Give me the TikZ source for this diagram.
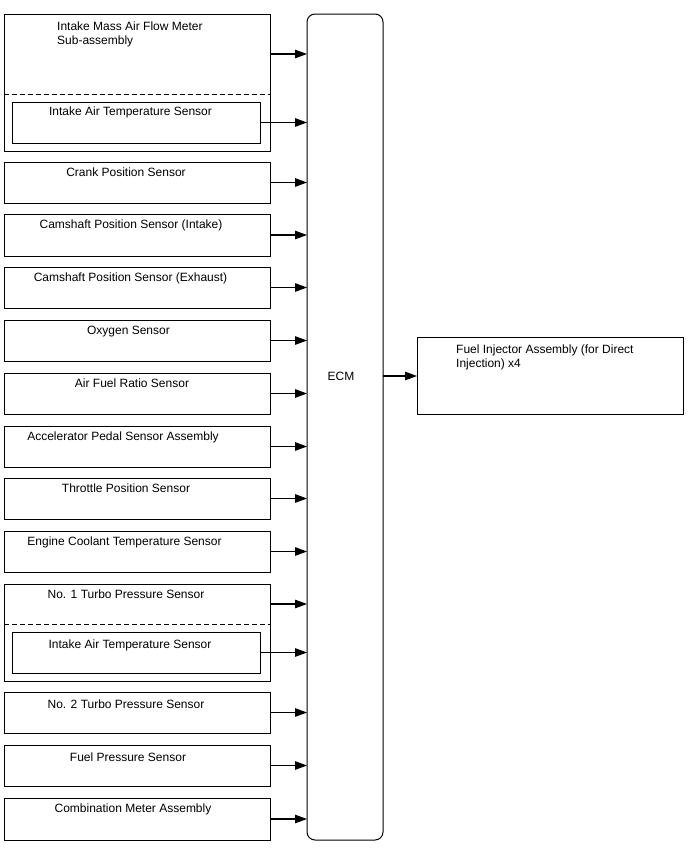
\documentclass[tikz,border=0pt]{standalone}
\usepackage{fontspec}
\setmainfont{Liberation Sans}
\usetikzlibrary{arrows.meta}
\begin{document}
\begin{tikzpicture}[x=1pt,y=-1pt,
  box/.style={draw,line width=1pt,minimum width=266pt,inner sep=0pt,outer sep=0pt,anchor=north west},
  inbox/.style={draw,line width=1pt,minimum width=248pt,minimum height=41pt,inner sep=0pt,outer sep=0pt,anchor=north west},
  lbl/.style={inner sep=0pt,font=\fontsize{12}{14}\selectfont,anchor=base},
  mlbl/.style={inner sep=0pt,font=\fontsize{12}{14}\selectfont,align=left,anchor=north west},
  dsh/.style={line width=1pt,dash pattern=on 5pt off 3pt},
  arr/.style={line width=1.1pt,-{Triangle[length=12pt,width=8.5pt]}}]
\useasboundingbox (0,0) rectangle (688,852);
% ECM
\node[draw,line width=1pt,rounded corners=8pt,minimum width=76pt,minimum height=826pt,inner sep=0pt,outer sep=0pt,anchor=north west] (ecm) at (307,14) {};
\node[lbl] (ecmT) at (341,380) {ECM};
% Output
\node[box,minimum height=77pt] (inj) at (417,337) {};
\node[mlbl] (injT) at (456,345) {Fuel Injector Assembly (for Direct\\Injection) x4};
\coordinate (ecmo) at (383,376);
\draw[arr] (ecmo) -- (ecmo -| inj.west);
% Box 1: MAF
\node[box,minimum height=137pt] (maf) at (4,14) {};
\node[mlbl] (mafT) at (57,22) {Intake Mass Air Flow Meter\\Sub-assembly};
\coordinate (mafd1) at (4,94);
\coordinate (mafd2) at (270,94);
\draw[dsh] (mafd1) -- (mafd2);
\node[inbox] (iat1) at (12,102) {};
\node[lbl] (iat1T) at (130.5,115) {Intake Air Temperature Sensor};
\coordinate (mafo) at (270,54);
\draw[arr] (mafo) -- (mafo -| ecm.west);
\draw[arr] (iat1.east) -- (iat1.east -| ecm.west);
% Single boxes
\node[box,minimum height=41pt] (crank) at (4,162) {};
\node[lbl] (crankT) at (126,176) {Crank Position Sensor};
\draw[arr] (crank.east) -- (crank.east -| ecm.west);
\node[box,minimum height=42pt] (camin) at (4,214) {};
\node[lbl] (caminT) at (131,228) {Camshaft Position Sensor (Intake)};
\draw[arr] (camin.east) -- (camin.east -| ecm.west);
\node[box,minimum height=41pt] (camex) at (4,267) {};
\node[lbl] (camexT) at (130.5,281) {Camshaft Position Sensor (Exhaust)};
\draw[arr] (camex.east) -- (camex.east -| ecm.west);
\node[box,minimum height=41pt] (oxy) at (4,320) {};
\node[lbl] (oxyT) at (128.5,334) {Oxygen Sensor};
\draw[arr] (oxy.east) -- (oxy.east -| ecm.west);
\node[box,minimum height=41pt] (afr) at (4,373) {};
\node[lbl] (afrT) at (132,387) {Air Fuel Ratio Sensor};
\draw[arr] (afr.east) -- (afr.east -| ecm.west);
\node[box,minimum height=41pt] (acc) at (4,426) {};
\node[lbl] (accT) at (123,440) {Accelerator Pedal Sensor Assembly};
\draw[arr] (acc.east) -- (acc.east -| ecm.west);
\node[box,minimum height=41pt] (thr) at (4,478) {};
\node[lbl] (thrT) at (126,492) {Throttle Position Sensor};
\draw[arr] (thr.east) -- (thr.east -| ecm.west);
\node[box,minimum height=41pt] (ect) at (4,531) {};
\node[lbl] (ectT) at (124.5,545) {Engine Coolant Temperature Sensor};
\draw[arr] (ect.east) -- (ect.east -| ecm.west);
% No. 1 Turbo
\node[box,minimum height=97pt] (tp1) at (4,584) {};
\node[lbl] (tp1T) at (126,598) {No. 1 Turbo Pressure Sensor};
\coordinate (tpd1) at (4,624);
\coordinate (tpd2) at (270,624);
\draw[dsh] (tpd1) -- (tpd2);
\node[inbox] (iat2) at (12,632) {};
\node[lbl] (iat2T) at (130,648) {Intake Air Temperature Sensor};
\coordinate (tp1o) at (270,604);
\draw[arr] (tp1o) -- (tp1o -| ecm.west);
\draw[arr] (iat2.east) -- (iat2.east -| ecm.west);
% Remaining
\node[box,minimum height=41pt] (tp2) at (4,692) {};
\node[lbl] (tp2T) at (126,708) {No. 2 Turbo Pressure Sensor};
\draw[arr] (tp2.east) -- (tp2.east -| ecm.west);
\node[box,minimum height=41pt] (fps) at (4,745) {};
\node[lbl] (fpsT) at (128,761) {Fuel Pressure Sensor};
\draw[arr] (fps.east) -- (fps.east -| ecm.west);
\node[box,minimum height=42pt] (cma) at (4,798) {};
\node[lbl] (cmaT) at (133,812) {Combination Meter Assembly};
\draw[arr] (cma.east) -- (cma.east -| ecm.west);
\end{tikzpicture}
\end{document}
